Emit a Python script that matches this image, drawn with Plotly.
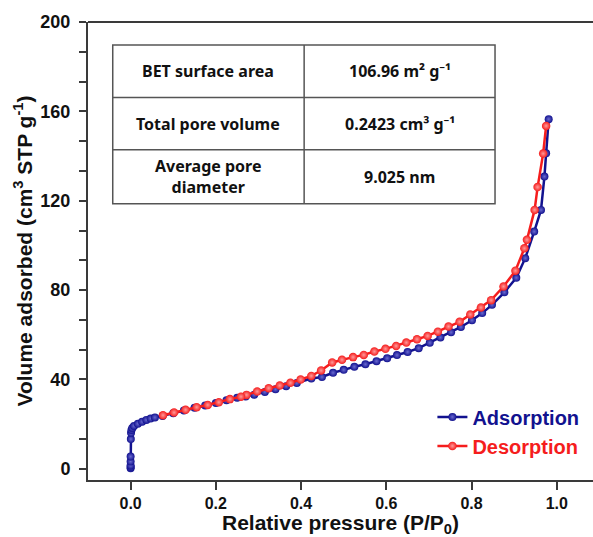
import plotly.graph_objects as go

# ---------------- data ----------------
ads_p = [0.0, 0.0, 0.0, 0.0, 0.0, 0.0005, 0.001, 0.002, 0.004, 0.008, 0.017, 0.027, 0.037,
         0.047, 0.057, 0.075, 0.100, 0.125, 0.150, 0.175, 0.200, 0.225, 0.250, 0.270,
         0.290, 0.315, 0.340, 0.365, 0.390, 0.424, 0.449, 0.475, 0.500, 0.525, 0.551,
         0.577, 0.602, 0.625, 0.650, 0.676, 0.702, 0.727, 0.752, 0.775, 0.801, 0.825,
         0.848, 0.877, 0.905, 0.926, 0.947, 0.963, 0.971, 0.975, 0.981]
ads_v = [0.3, 0.8, 1.5, 3.3, 5.5, 13.3, 16.1, 17.4, 18.3, 19.2, 20.2, 21.1, 21.9,
         22.5, 23.0, 23.7, 24.9, 26.1, 27.3, 28.4, 29.5, 30.7, 31.8, 32.4,
         33.2, 34.4, 35.6, 37.0, 38.4, 40.4, 41.1, 43.0, 44.3, 45.7, 46.8,
         48.2, 49.5, 50.9, 52.3, 54.0, 56.4, 58.8, 61.1, 63.5, 66.5, 69.7,
         73.4, 79.0, 85.5, 94.3, 106.2, 115.9, 130.8, 141.2, 156.5]

des_p = [0.975, 0.968, 0.955, 0.948, 0.930, 0.924, 0.903, 0.875, 0.846, 0.822, 0.797,
         0.772, 0.746, 0.721, 0.697, 0.672, 0.647, 0.623, 0.598, 0.572, 0.547, 0.522,
         0.496, 0.473, 0.447, 0.424, 0.399, 0.375, 0.350, 0.324, 0.297, 0.272, 0.259,
         0.233, 0.207, 0.181, 0.155, 0.129, 0.102, 0.076]
des_v = [153.5, 141.1, 126.1, 115.9, 102.5, 98.7, 88.7, 81.6, 75.5, 72.2, 69.1,
         65.8, 63.7, 61.4, 59.5, 58.0, 56.5, 55.0, 53.7, 52.5, 51.0, 50.0,
         48.8, 47.6, 44.0, 41.6, 40.0, 38.5, 37.3, 36.1, 34.6, 33.1, 32.3,
         31.2, 29.8, 28.6, 27.6, 26.4, 25.2, 24.0]

series_names = ["Adsorption", "Desorption"]
x_ticks = [0.0, 0.2, 0.4, 0.6, 0.8, 1.0]
x_tick_labels = ["0.0", "0.2", "0.4", "0.6", "0.8", "1.0"]
y_ticks = [0, 40, 80, 120, 160, 200]
y_tick_labels = ["0", "40", "80", "120", "160", "200"]

table_labels = ["BET surface area", "Total pore volume", "Average pore<br>diameter"]
table_values = ["106.96 m² g⁻¹", "0.2423 cm³ g⁻¹", "9.025 nm"]

# ---------------- style ----------------
BLUE = "#12128f"
RED = "#f51d1d"
AXIS = "#3a3a3a"
FONT = "Liberation Sans, Arial, sans-serif"
TFONT = "Noto Sans, Open Sans, sans-serif"

fig = go.Figure()
fig.add_trace(go.Scatter(
    x=ads_p, y=ads_v, mode="lines+markers",
    name=f"<span style='color:{BLUE}'>{series_names[0]}</span>",
    line=dict(color=BLUE, width=2.5),
    marker=dict(color=BLUE, size=8, gradient=dict(type="radial", color="#6a6ad0")),
))
fig.add_trace(go.Scatter(
    x=des_p, y=des_v, mode="lines+markers",
    name=f"<span style='color:{RED}'>{series_names[1]}</span>",
    line=dict(color=RED, width=2.5),
    marker=dict(color=RED, size=8.5, gradient=dict(type="radial", color="#ff9a9a")),
))

# table (decorative inset)
tx0, tx1, txm = 0.049, 0.806, 0.428
ty = [0.950, 0.835, 0.721, 0.603]
shapes = [
    dict(type="rect", xref="paper", yref="paper", x0=tx0, x1=tx1, y0=ty[3], y1=ty[0],
         line=dict(color="#555555", width=1.5), fillcolor="white", layer="below"),
    dict(type="line", xref="paper", yref="paper", x0=txm, x1=txm, y0=ty[3], y1=ty[0],
         line=dict(color="#555555", width=1.5)),
]
for yy in ty[1:3]:
    shapes.append(dict(type="line", xref="paper", yref="paper", x0=tx0, x1=tx1, y0=yy, y1=yy,
                       line=dict(color="#555555", width=1.5)))
# top border line of the frame
shapes.append(dict(type="line", xref="paper", yref="paper", x0=0, x1=1, y0=1, y1=1,
                   line=dict(color=AXIS, width=2)))

annotations = []
for i in range(3):
    yc = (ty[i] + ty[i + 1]) / 2
    annotations.append(dict(xref="paper", yref="paper", x=(tx0 + txm) / 2, y=yc,
                            text=table_labels[i], showarrow=False,
                            font=dict(family=TFONT, size=16, color="#111", weight="bold"),
                            xanchor="center", yanchor="middle"))
    annotations.append(dict(xref="paper", yref="paper", x=(txm + tx1) / 2, y=yc,
                            text=table_values[i], showarrow=False,
                            font=dict(family=TFONT, size=16, color="#111", weight="bold"),
                            xanchor="center", yanchor="middle"))

fig.update_layout(
    width=593, height=537,
    margin=dict(l=88, r=0, t=22, b=57),
    paper_bgcolor="white", plot_bgcolor="white",
    font=dict(family=FONT, color="#111"),
    shapes=shapes, annotations=annotations,
    legend=dict(x=0.682, y=0.106, xanchor="left", yanchor="middle",
                font=dict(family=FONT, size=20, weight="bold"),
                bgcolor="rgba(0,0,0,0)", tracegroupgap=0, itemwidth=30),
    showlegend=True,
)
fig.update_xaxes(
    range=[-0.1, 1.085], tickvals=x_ticks, ticktext=x_tick_labels,
    showgrid=False, zeroline=False, showline=True, linecolor=AXIS, linewidth=2,
    ticks="outside", ticklen=8, tickwidth=2, tickcolor=AXIS,
    tickfont=dict(family=FONT, size=16, weight="bold", color="#111"),
    title=dict(text="Relative pressure (P/P<sub>0</sub>)", standoff=2,
               font=dict(family=FONT, size=21, weight="bold", color="#111")),
)
fig.update_yaxes(
    range=[-5, 200], tickvals=y_ticks, ticktext=y_tick_labels,
    showgrid=False, zeroline=False, showline=True, linecolor=AXIS, linewidth=2,
    ticks="outside", ticklen=7, tickwidth=2, tickcolor=AXIS,
    minor=dict(dtick=40 / 3, tick0=0, ticks="outside", ticklen=7, tickwidth=2, tickcolor=AXIS),
    tickfont=dict(family=FONT, size=18, weight="bold", color="#111"),
    ticklabelstandoff=5,
    title=dict(text="Volume adsorbed (cm<sup>3</sup> STP g<sup>-1</sup>)", standoff=2,
               font=dict(family=FONT, size=21, weight="bold", color="#111")),
)

fig.write_html("out.html", config={"displayModeBar": False},
               post_script="document.body.style.margin='0';")
